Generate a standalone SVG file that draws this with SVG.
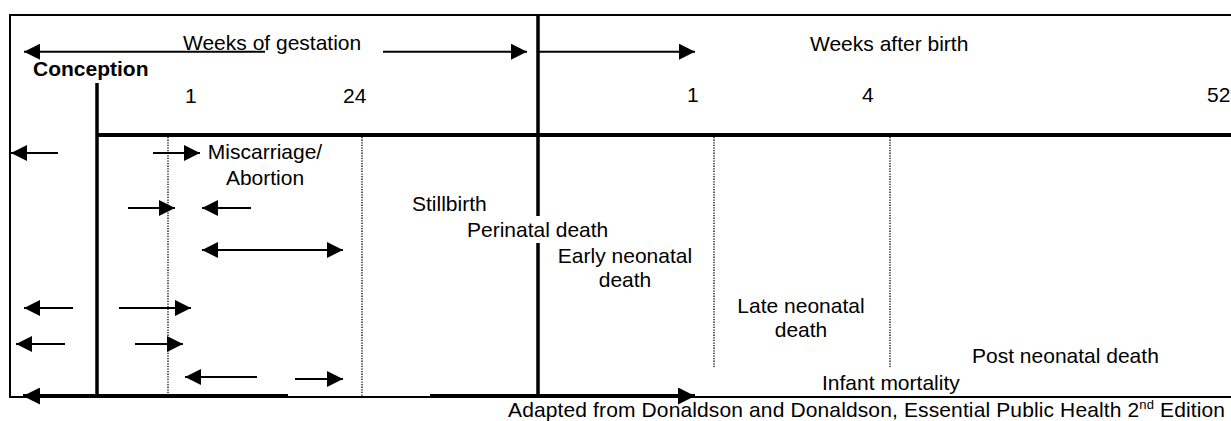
<svg xmlns="http://www.w3.org/2000/svg" width="1231" height="421" viewBox="0 0 1231 421">
<defs>
<style>
text{font-family:"Liberation Sans",Arial,sans-serif;font-size:21px;fill:#000}
.b{font-weight:bold}
.frame{stroke:#000;fill:none}
.dot{stroke:#000;stroke-width:1.3;stroke-dasharray:1.3 1.3;fill:none}
.arr{stroke:#000;stroke-width:2;fill:none;marker-end:url(#ah)}
.arr2{stroke:#000;stroke-width:2;fill:none;marker-end:url(#ah);marker-start:url(#ahs)}
.thick{stroke:#000;stroke-width:4;fill:none;marker-end:url(#ahb)}
</style>
<marker id="ah" viewBox="0 0 16 16" refX="16" refY="8" markerWidth="16" markerHeight="16" markerUnits="userSpaceOnUse" orient="auto"><path d="M0,0L16,8L0,16z" fill="#000"/></marker>
<marker id="ahs" viewBox="0 0 16 16" refX="0" refY="8" markerWidth="16" markerHeight="16" markerUnits="userSpaceOnUse" orient="auto"><path d="M16,0L0,8L16,16z" fill="#000"/></marker>
<marker id="ahb" viewBox="0 0 17 17" refX="17" refY="8.5" markerWidth="17" markerHeight="17" markerUnits="userSpaceOnUse" orient="auto"><path d="M0,0L17,8.5L0,17z" fill="#000"/></marker>
</defs>
<g id="frame">
<path class="frame" stroke-width="2" d="M1231,15H10V397H1231"/>
<path class="frame" stroke-width="4" d="M97,135H1231"/>
<path class="frame" stroke-width="3.5" d="M97,83V397"/>
<path class="frame" stroke-width="3.5" d="M538,15V216M538,243V397"/>
<path class="dot" d="M168,137V397M362,137V397M714,137V368M890,137V368"/>
</g>
<g id="connectors">
<path class="arr" d="M265,51.7H24"/>
<path class="arr" d="M383,51.7H527"/>
<path class="arr" d="M538,51.7H695"/>
<path class="arr" d="M58,153H11"/>
<path class="arr" d="M153,153H200"/>
<path class="arr" d="M128,208H175"/>
<path class="arr" d="M251,208H202"/>
<path class="arr2" d="M202,250H343"/>
<path class="arr" d="M73,308H24"/>
<path class="arr" d="M119,308H191"/>
<path class="arr" d="M65,344H16"/>
<path class="arr" d="M135,344H183"/>
<path class="arr" d="M257,377H185"/>
<path class="arr" d="M295,379H343"/>
<path class="thick" d="M288,396H23"/>
<path class="thick" d="M430,396H695"/>
</g>
<g id="header">
<text x="183" y="50">Weeks of gestation</text>
<text x="810" y="51">Weeks after birth</text>
<text class="b" x="33" y="76">Conception</text>
<text x="185" y="103">1</text>
<text x="343" y="103">24</text>
<text x="687" y="102">1</text>
<text x="862" y="102">4</text>
<text x="1207" y="102">52</text>
</g>
<g id="miscarriage"><text x="265" y="159" text-anchor="middle">Miscarriage/</text><text x="265" y="185" text-anchor="middle">Abortion</text></g>
<g id="stillbirth"><text x="412" y="211">Stillbirth</text></g>
<g id="perinatal"><text x="467" y="237">Perinatal death</text></g>
<g id="early"><text x="625" y="263" text-anchor="middle">Early neonatal</text><text x="625" y="287" text-anchor="middle">death</text></g>
<g id="late"><text x="801" y="313" text-anchor="middle">Late neonatal</text><text x="801" y="337" text-anchor="middle">death</text></g>
<g id="post"><text x="972" y="363">Post neonatal death</text></g>
<g id="infant"><text x="822" y="390">Infant mortality</text></g>
<g id="source"><text x="508" y="417" textLength="717">Adapted from Donaldson and Donaldson, Essential Public Health 2<tspan font-size="13" dy="-8">nd</tspan><tspan dy="8"> Edition</tspan></text></g>
</svg>
